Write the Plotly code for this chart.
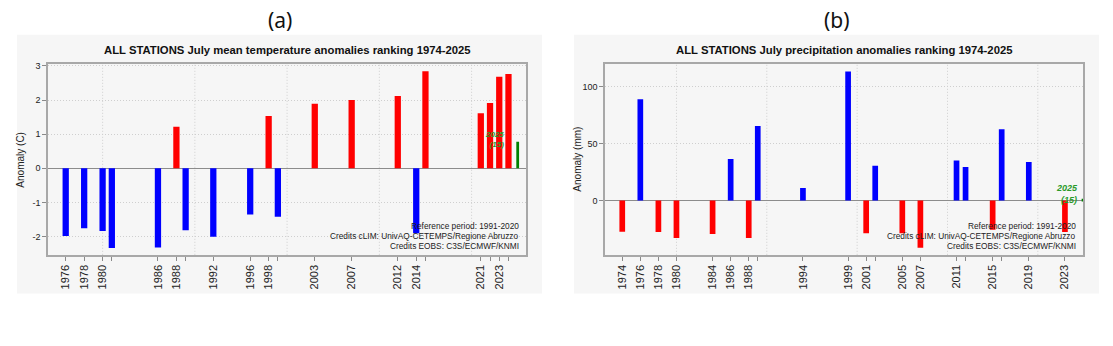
import plotly.graph_objects as go

W, H = 1113, 346

# ---------------- data ----------------
# (a) July mean temperature anomalies (C) - top/bottom ranked years
temp_years = [1976, 1978, 1980, 1981, 1986, 1988, 1989, 1992, 1996, 1998, 1999,
              2003, 2007, 2012, 2014, 2015, 2021, 2022, 2023, 2024]
temp_vals = [-1.98, -1.75, -1.83, -2.33, -2.32, 1.22, -1.81, -2.00, -1.35, 1.53, -1.42,
             1.89, 2.00, 2.12, -1.90, 2.84, 1.61, 1.91, 2.68, 2.76]
temp_labels = [1976, 1978, 1980, 1986, 1988, 1992, 1996, 1998, 2003, 2007, 2012, 2014, 2021, 2023]
temp_current_year = 2025
temp_current_val = 0.78
temp_current_rank = "(15)"

# (b) July precipitation anomalies (mm)
prec_years = [1974, 1976, 1978, 1980, 1984, 1986, 1988, 1989, 1994, 1999, 2001, 2002,
              2005, 2007, 2011, 2012, 2015, 2016, 2019, 2023]
prec_vals = [-27.3, 88.8, -27.5, -32.7, -29.3, 36.5, -32.7, 65.4, 11.0, 113.0, -28.7, 30.4,
             -28.7, -41.4, 35.0, 29.5, -25.5, 62.5, 33.8, -27.5]
prec_labels = [1974, 1976, 1978, 1980, 1984, 1986, 1988, 1994, 1999, 2001, 2005, 2007,
               2011, 2015, 2019, 2023]
prec_current_year = 2025
prec_current_val = 1.5
prec_current_rank = "(15)"

grid_years = [1980, 1990, 2000, 2010, 2020]
temp_yticks = [-2, -1, 0, 1, 2, 3]
prec_yticks = [0, 50, 100]

credits = ["Reference period: 1991-2020",
           "Credits cLIM: UnivAQ-CETEMPS/Regione Abruzzo",
           "Credits EOBS: C3S/ECMWF/KNMI"]

# ---------------- helpers ----------------
def px_x(p):
    return p / W

def px_y(p):
    return (H - p) / H

FONT = "Liberation Sans, Arial, sans-serif"
RED, BLUE, GREEN = "#ff0000", "#0000ff", "#008000"
GRID = "#cfcfcf"

fig = go.Figure()

# (a) bars
fig.add_trace(go.Bar(x=temp_years, y=temp_vals, width=0.68,
                     marker=dict(color=[RED if v > 0 else BLUE for v in temp_vals], line_width=0),
                     xaxis="x", yaxis="y", showlegend=False))
fig.add_trace(go.Bar(x=[temp_current_year], y=[temp_current_val], width=0.3,
                     marker=dict(color=GREEN, line_width=0),
                     xaxis="x", yaxis="y", showlegend=False))
# (b) bars
fig.add_trace(go.Bar(x=prec_years, y=prec_vals, width=0.63,
                     marker=dict(color=[BLUE if v > 0 else RED for v in prec_vals], line_width=0),
                     xaxis="x2", yaxis="y2", showlegend=False))
fig.add_trace(go.Bar(x=[prec_current_year], y=[prec_current_val], width=0.3,
                     marker=dict(color=GREEN, line_width=0),
                     xaxis="x2", yaxis="y2", showlegend=False))

def xaxis_cfg(dom, rng, years, labels, anchor):
    return dict(domain=dom, range=rng, tickmode="array", tickvals=years,
                ticktext=[str(y) if y in labels else "" for y in years],
                tickangle=-90, ticks="outside", ticklen=4, tickcolor="#8a8a8a",
                tickfont=dict(family=FONT, size=11, color="#222"),
                showline=True, mirror=True, linecolor="#a8a8a8", linewidth=1.5,
                showgrid=False, zeroline=False, fixedrange=True, anchor=anchor)

def yaxis_cfg(dom, rng, ticks, anchor):
    return dict(domain=dom, range=rng, tickmode="array", tickvals=ticks,
                ticktext=[str(t) for t in ticks],
                ticks="outside", ticklen=4, tickcolor="#8a8a8a",
                tickfont=dict(family=FONT, size=9, color="#222"),
                showline=True, mirror=True, linecolor="#a8a8a8", linewidth=1.5,
                showgrid=True, gridcolor=GRID, griddash="1px,2px", gridwidth=1,
                zeroline=True, zerolinecolor="#8c8c8c", zerolinewidth=1, fixedrange=True,
                anchor=anchor)

ydom = [px_y(254), px_y(62)]
fig.update_layout(
    width=W, height=H, margin=dict(l=0, r=0, t=0, b=0),
    paper_bgcolor="white", plot_bgcolor="#f6f6f6",
    barmode="overlay",
    xaxis=xaxis_cfg([px_x(48), px_x(526)], [1974.08, 2025.9], temp_years, temp_labels, "y"),
    yaxis=yaxis_cfg(ydom, [-2.53, 3.04], temp_yticks, "x"),
    xaxis2=xaxis_cfg([px_x(605), px_x(1083)], [1972.09, 2025.0], prec_years, prec_labels, "y2"),
    yaxis2=yaxis_cfg(ydom, [-47.5, 119.2], prec_yticks, "x2"),
)

shapes = []
# grey panel backgrounds
for x0, x1 in [(17, 542), (574, 1099)]:
    shapes.append(dict(type="rect", xref="paper", yref="paper",
                       x0=px_x(x0), x1=px_x(x1), y0=px_y(293), y1=px_y(32),
                       fillcolor="#f6f6f6", line_width=0, layer="below"))
# vertical dotted grid lines at decades
for xr, yr in [("x", "y domain"), ("x2", "y2 domain")]:
    for g in grid_years:
        shapes.append(dict(type="line", xref=xr, yref=yr, x0=g, x1=g, y0=0, y1=1,
                           line=dict(color=GRID, width=1, dash="1px,2px"), layer="below"))
fig.update_layout(shapes=shapes)

ann = []
def add_text(text, x, y, size, family=FONT, color="#111", xanchor="center", angle=0):
    ann.append(dict(text=text, x=px_x(x), y=px_y(y), xref="paper", yref="paper",
                    xanchor=xanchor, yanchor="middle", textangle=angle, showarrow=False,
                    font=dict(family=family, size=size, color=color)))

# panel letters
add_text("(a)", 280, 17, 21, family="Noto Sans, Open Sans")
add_text("(b)", 837, 17, 21, family="Noto Sans, Open Sans")
# titles
add_text("<b>ALL STATIONS July mean temperature anomalies ranking 1974-2025</b>", 287, 47, 11.3)
add_text("<b>ALL STATIONS July precipitation anomalies ranking 1974-2025</b>", 844, 47, 11.3)
# y-axis titles
add_text("Anomaly (C)", 21, 158, 10, color="#222", angle=-90)
add_text("Anomaly (mm)", 578, 157, 10, color="#222", angle=-90)
# credits
for xr in [521, 1078]:
    for t, yy in zip(credits, [225, 235, 245]):
        add_text(t, xr, yy, 8.3, color="#222", xanchor="right")
# current-year labels
ann.append(dict(text=f"<b><i>{temp_current_year}<br>{temp_current_rank}</i></b>",
                x=temp_current_year, y=temp_current_val, xref="x", yref="y",
                xanchor="right", yanchor="middle", xshift=-12, yshift=2, align="right",
                showarrow=False, font=dict(family=FONT, size=8, color="#2a9a2a")))
ann.append(dict(text=f"<b><i>{prec_current_year}<br>{prec_current_rank}</i></b>",
                x=prec_current_year, y=prec_current_val, xref="x2", yref="y2",
                xanchor="right", yanchor="middle", xshift=-3, yshift=5, align="right",
                showarrow=False, font=dict(family=FONT, size=9, color="#2a9a2a")))
fig.update_layout(annotations=ann)

fig.write_html("out.html")
